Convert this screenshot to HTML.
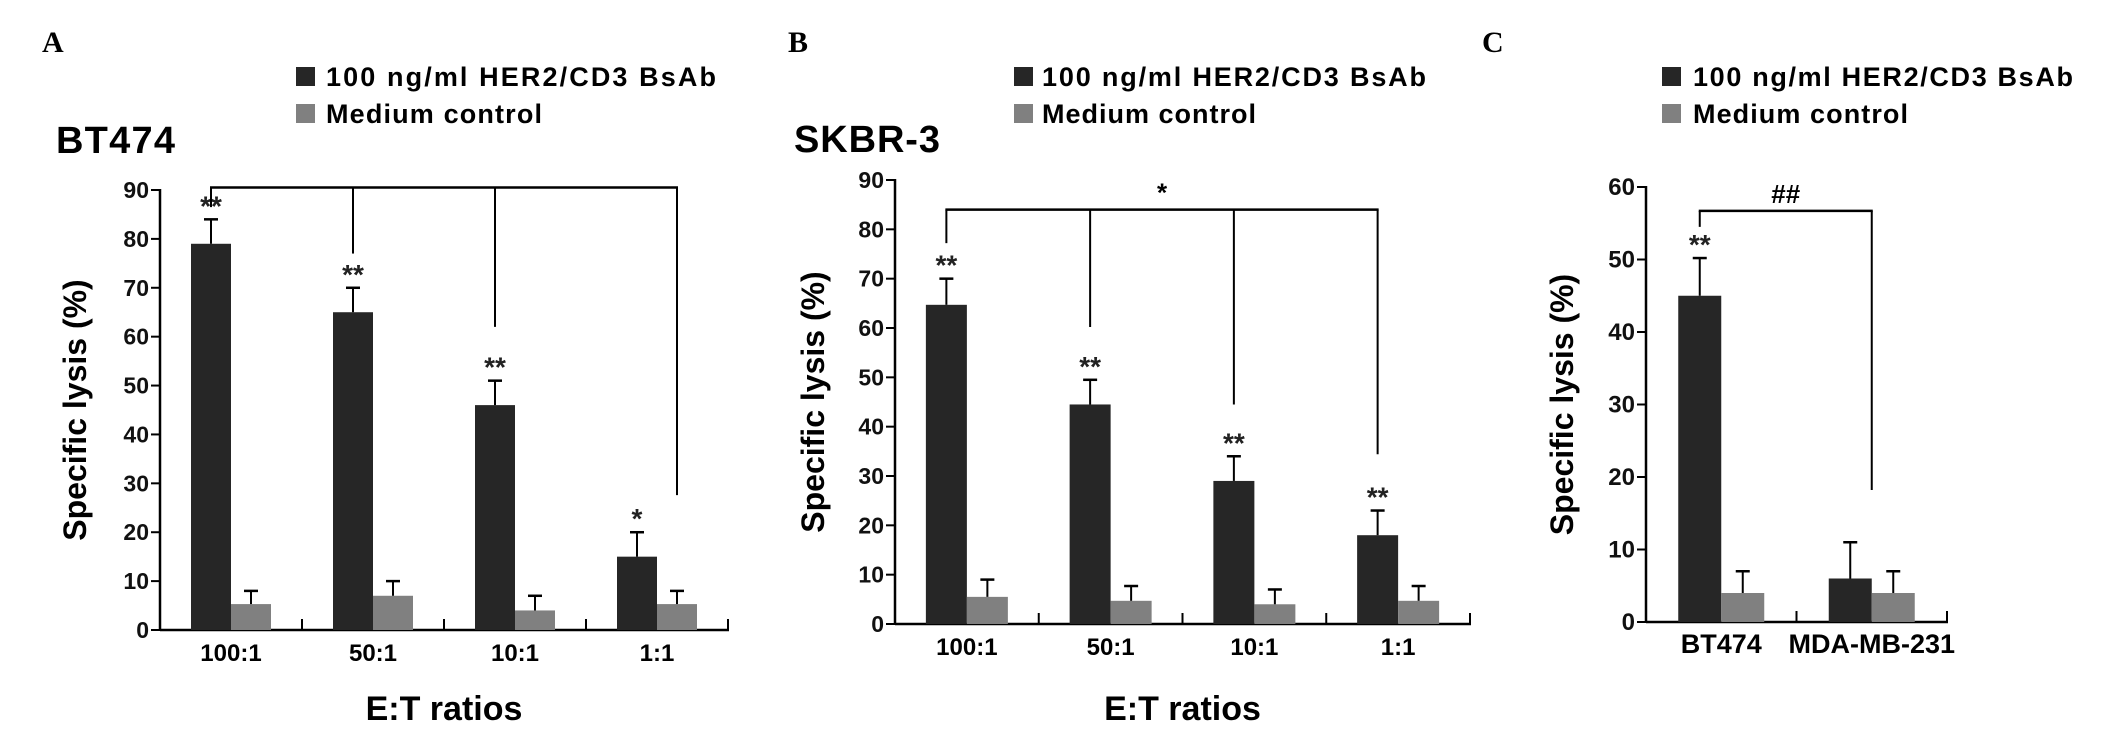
<!DOCTYPE html>
<html><head><meta charset="utf-8"><style>
html,body{margin:0;padding:0;background:#fff;}
svg{display:block;font-family:"Liberation Sans",sans-serif;}
</style></head><body>
<svg id="fig" width="2126" height="732" viewBox="0 0 2126 732" xmlns="http://www.w3.org/2000/svg">
<rect width="2126" height="732" fill="#fff"/>
<g>
<text x="42" y="52" font-family="Liberation Serif,serif" font-weight="bold" font-size="30">A</text>
<rect x="296" y="67" width="19" height="19" fill="#262626"/>
<text x="326" y="86" font-weight="bold" font-size="27" textLength="390">100 ng/ml HER2/CD3 BsAb</text>
<rect x="296" y="104" width="19" height="19" fill="#808080"/>
<text x="326" y="123" font-weight="bold" font-size="27" textLength="216">Medium control</text>
<text x="56" y="153" font-weight="bold" font-size="38" textLength="119">BT474</text>
</g>
<g>
<text x="788" y="52" font-family="Liberation Serif,serif" font-weight="bold" font-size="30">B</text>
<rect x="1014" y="67" width="19" height="19" fill="#262626"/>
<text x="1042" y="86" font-weight="bold" font-size="27" textLength="384">100 ng/ml HER2/CD3 BsAb</text>
<rect x="1014" y="104" width="19" height="19" fill="#808080"/>
<text x="1042" y="123" font-weight="bold" font-size="27" textLength="214">Medium control</text>
<text x="794" y="152" font-weight="bold" font-size="38" textLength="146">SKBR-3</text>
</g>
<g>
<text x="1482" y="52" font-family="Liberation Serif,serif" font-weight="bold" font-size="30">C</text>
<rect x="1662" y="67" width="19" height="19" fill="#262626"/>
<text x="1693" y="86" font-weight="bold" font-size="27" textLength="380">100 ng/ml HER2/CD3 BsAb</text>
<rect x="1662" y="104" width="19" height="19" fill="#808080"/>
<text x="1693" y="123" font-weight="bold" font-size="27" textLength="215">Medium control</text>
</g>
</svg>
<script>
// Panel A data
const catsA = ["100:1","50:1","10:1","1:1"];
const bsabA = [79, 65, 46, 15];
const bsabErrA = [84, 70, 51, 20];
const medA = [5.3, 7, 4, 5.3];
const medErrA = [8, 10, 7, 8];
const starsA = ["**","**","**","*"];
const ticksA = [0,10,20,30,40,50,60,70,80,90];
const bracketTopA = 90.5;
const bracketDropA = [86.5, 77, 62, 27.6];
// Panel B data
const catsB = ["100:1","50:1","10:1","1:1"];
const bsabB = [64.7, 44.5, 29, 18];
const bsabErrB = [70, 49.5, 34, 23];
const medB = [5.5, 4.7, 4, 4.7];
const medErrB = [9, 7.7, 7, 7.7];
const starsB = ["**","**","**","**"];
const ticksB = [0,10,20,30,40,50,60,70,80,90];
const bracketTopB = 84;
const bracketDropB = [77.2, 60.2, 44.5, 34.4];
// Panel C data
const catsC = ["BT474","MDA-MB-231"];
const bsabC = [45, 6];
const bsabErrC = [50.2, 11];
const medC = [4, 4];
const medErrC = [7, 7];
const starsC = ["**",""];
const ticksC = [0,10,20,30,40,50,60];
const bracketTopC = 56.7;
const bracketDropC = [54.5, 18.2];

const NS = "http://www.w3.org/2000/svg";
const svg = document.getElementById('fig');
function mk(tag, attrs, parent){
  const e = document.createElementNS(NS, tag);
  for (const k in attrs) e.setAttribute(k, attrs[k]);
  (parent||svg).appendChild(e);
  return e;
}
function panel(p){
  const g = mk('g', {});
  
  
  const yMax = p.ticks[p.ticks.length-1];
  const y = v => p.y0 - (v / yMax) * (p.y0 - p.yTop);
  const gw = (p.x1 - p.x0) / p.cats.length;
  const cx = i => p.x0 + gw * (i + 0.5);
  const ya = mk('line', {x1:p.x0, y1:y(yMax)-1, x2:p.x0, y2:p.y0+1, stroke:'#000','stroke-width':2.5}, g);
  
  
  const xa = mk('line', {x1:p.x0, y1:p.y0, x2:p.x1+1, y2:p.y0, stroke:'#000','stroke-width':2.5}, g);
  
  
  p.ticks.forEach(t => {
    mk('line', {x1:p.x0-9, y1:y(t), x2:p.x0, y2:y(t), stroke:'#000','stroke-width':2}, g);
    const tl = mk('text', {x:p.x0-11, y:y(t)+8, 'text-anchor':'end','font-weight':'bold','font-size':p.tickFont, fill:'#111'}, g);
    tl.textContent = t;
    
    
  });
  for (let i = 1; i <= p.cats.length; i++) {
    mk('line', {x1:p.x0+gw*i, y1:p.y0-11, x2:p.x0+gw*i, y2:p.y0, stroke:'#000','stroke-width':2}, g);
  }
  p.cats.forEach((c, i) => {
    const dx = cx(i) - p.bw, gx = cx(i);
    const b1 = mk('rect', {x:dx, y:y(p.bsab[i]), width:p.bw, height:y(0)-y(p.bsab[i]), fill:'#262626'}, g);
    
    
    const b2 = mk('rect', {x:gx, y:y(p.med[i]), width:p.bw, height:y(0)-y(p.med[i]), fill:'#808080'}, g);
    
    
    [[dx+p.bw/2, p.bsab[i], p.bsabErr[i]], [gx+p.bw/2, p.med[i], p.medErr[i]]].forEach(e => {
      mk('line', {x1:e[0], y1:y(e[1]), x2:e[0], y2:y(e[2]), stroke:'#000','stroke-width':2}, g);
      mk('line', {x1:e[0]-7, y1:y(e[2]), x2:e[0]+7, y2:y(e[2]), stroke:'#000','stroke-width':2.5}, g);
    });
    if (p.stars[i]) {
      const s = mk('text', {x:dx+p.bw/2, y:y(p.bsabErr[i])-4, 'text-anchor':'middle','font-weight':'bold','font-size':28, fill:'#222'}, g);
      s.textContent = p.stars[i];
      
      
    }
    const xl = mk('text', {x:gx, y:p.y0+31, 'text-anchor':'middle','font-weight':'bold','font-size':p.catFont}, g);
    xl.textContent = c;
    
    
  });
  const bx = i => p.bracketSide[i] === 'd' ? cx(i) - p.bw/2 : (p.bracketSide[i] === 'g' ? cx(i) + p.bw/2 : cx(i));
  const n = p.cats.length;
  const br = mk('g', {}, g);
  
  
  mk('line', {x1:bx(0)-1, y1:y(p.bTop), x2:bx(n-1)+1, y2:y(p.bTop), stroke:'#000','stroke-width':2.5}, br);
  p.bDrop.forEach((d, i) => {
    mk('line', {x1:bx(i), y1:y(p.bTop), x2:bx(i), y2:y(d), stroke:'#000','stroke-width':2}, br);
  });
  if (p.bLabel) {
    const bl = mk('text', {x:(bx(0)+bx(n-1))/2, y:y(p.bTop)-8, 'text-anchor':'middle','font-weight':'bold','font-size':26}, br);
    bl.textContent = p.bLabel;
    
    
  }
  const yt = mk('text', {x:0, y:0, 'text-anchor':'middle','font-weight':'bold','font-size':32,
    transform:'translate(' + (p.ytX) + ',' + ((y(0)+y(yMax))/2) + ') rotate(-90)'}, g);
  yt.textContent = 'Specific lysis (%)';
  
  
  if (p.xTitle) {
    const xt = mk('text', {x:(p.x0+p.x1)/2, y:720, 'text-anchor':'middle','font-weight':'bold','font-size':34}, g);
    xt.textContent = p.xTitle;
    
    
  }
}
panel({id:'a', x0:160, x1:728, y0:630, yTop:190, bw:40, cats:catsA, bsab:bsabA, bsabErr:bsabErrA, med:medA, medErr:medErrA,
  stars:starsA, ticks:ticksA, bTop:bracketTopA, bDrop:bracketDropA, bracketSide:['d','d','d','g'], ytX:86, xTitle:'E:T ratios', tickFont:23, catFont:24});
panel({id:'b', x0:895, x1:1470, y0:624, yTop:180, bw:41, cats:catsB, bsab:bsabB, bsabErr:bsabErrB, med:medB, medErr:medErrB,
  stars:starsB, ticks:ticksB, bTop:bracketTopB, bDrop:bracketDropB, bracketSide:['d','d','d','d'], bLabel:'*', ytX:824, xTitle:'E:T ratios', tickFont:23, catFont:24});
panel({id:'c', x0:1646, x1:1947, y0:622, yTop:187, bw:43, cats:catsC, bsab:bsabC, bsabErr:bsabErrC, med:medC, medErr:medErrC,
  stars:starsC, ticks:ticksC, bTop:bracketTopC, bDrop:bracketDropC, bracketSide:['d','c'], bLabel:'##', ytX:1573, tickFont:24, catFont:27});
</script>
</body></html>
